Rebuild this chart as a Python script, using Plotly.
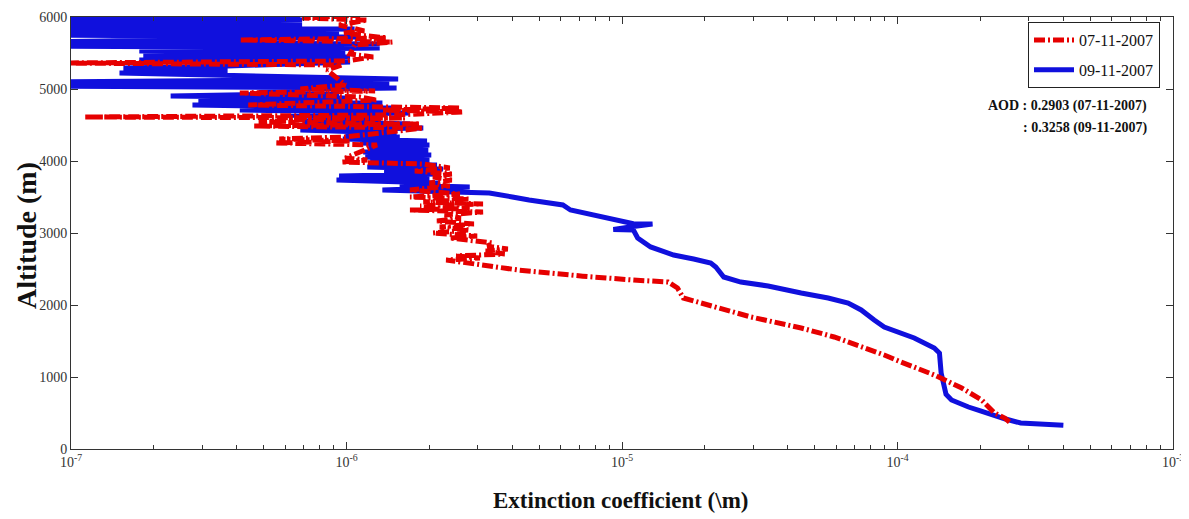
import plotly.graph_objects as go

# ---- data: 07-11-2007 (red, dash-dot) ----
red_alt = [375, 430, 500, 587, 681, 847, 1028, 1208, 1306, 1556, 1681, 1833, 1958, 2097,
           2236, 2319, 2347, 2375, 2400, 2486, 2556, 2625,
           2653, 2681, 2708, 2750, 2778, 2819, 2861, 2889, 2931, 2958, 3000, 3042, 3083,
           3125, 3167, 3208, 3250, 3292, 3319, 3347, 3375, 3403, 3430, 3472, 3500, 3542,
           3569, 3597, 3653, 3694, 3736, 3778, 3820, 3861, 3903, 3958, 3986, 4014, 4042,
           4222, 4250, 4278, 4306, 4333, 4458, 4486, 4514, 4542, 4569, 4597, 4611, 4639,
           4681, 4708, 4736, 4778, 4847, 4889, 4944, 4972, 5000, 5056, 5264, 5333, 5361,
           5389, 5444, 5486, 5611, 5653, 5681, 5708, 5778, 5806, 5889, 5958, 5986, 6028]
red_ext = [2.55e-4, 2.45e-4, 2.25e-4, 2.14e-4, 2.02e-4, 1.71e-4, 1.36e-4, 1.03e-4, 8.95e-5,
           5.89e-5, 4.47e-5, 2.94e-5, 2.23e-5, 1.67e-5, 1.59e-5, 1.47e-5, 1.10e-5, 8.3e-6,
           7.2e-6, 4.2e-6, 3.1e-6, 2.3e-6,
           3.05e-6, 2.5e-6, 3.75e-6, 3.2e-6, 3.85e-6, 3.25e-6, 3.4e-6, 2.98e-6, 2.37e-6,
           2.98e-6, 2.06e-6, 2.8e-6, 2.18e-6, 2.9e-6, 2.13e-6, 2.6e-6, 2.27e-6, 3.13e-6,
           1.7e-6, 2.8e-6, 1.85e-6, 3.13e-6, 1.9e-6, 2.8e-6, 1.7e-6, 2.58e-6, 2.18e-6,
           1.7e-6, 2.37e-6, 2.0e-6, 2.41e-6, 2.06e-6, 2.41e-6, 1.77e-6, 2.37e-6, 1.9e-6,
           9.6e-7, 1.19e-6, 9.9e-7, 1.29e-6, 5.5e-7, 1.03e-6, 5.7e-7, 9.9e-7, 1.9e-6,
           4.6e-7, 1.85e-6, 4.8e-7, 6.8e-7, 1.63e-6, 1.12e-7, 1.5e-6, 2.65e-6, 1.35e-6,
           2.58e-6, 4.4e-7, 1.29e-6, 1.12e-6, 4.1e-7, 1.27e-6, 6.8e-7, 9.9e-7, 8.5e-7,
           9.6e-7, 9.0e-8, 9.9e-7, 1.25e-6, 1.03e-6, 1.07e-6, 1.47e-6, 4.1e-7, 1.4e-6,
           9.7e-7, 1.16e-6, 9.4e-7, 1.19e-6, 6.9e-7, 1.12e-6]

# ---- data: 09-11-2007 (blue, solid) ----
blue_alt = [330, 340, 355, 361, 420, 472, 530, 583, 681, 760, 861, 1056, 1333, 1403, 1542,
            1694, 1792, 1931, 2028, 2097, 2167, 2264, 2319, 2389, 2528, 2583, 2639, 2694,
            2806, 2931, 3042, 3050, 3090, 3125, 3130, 3222, 3319, 3389, 3417, 3458, 3500,
            3556, 3597, 3639, 3667, 3694, 3736, 3764, 3792, 3820, 3861, 3889, 3917, 3944,
            3986, 4014, 4056, 4083, 4125, 4153, 4194, 4222, 4250, 4278, 4306, 4333, 4361,
            4389, 4431, 4458, 4486, 4514, 4556, 4597, 4639, 4667, 4708, 4736, 4778, 4806,
            4847, 4875, 4903, 4944, 4986, 5014, 5042, 5069, 5097, 5139, 5222, 5250, 5292,
            5319, 5375, 5403, 5444, 5472, 5500, 5528, 5569, 5597, 5625, 5653, 5722, 5750,
            5778, 5806, 5833, 5861, 5889, 5903, 5931, 5958, 5986, 6014]
blue_ext = [4.0e-4, 3.3e-4, 2.9e-4, 2.8e-4, 2.45e-4, 2.25e-4, 2.0e-4, 1.81e-4, 1.57e-4,
            1.50e-4, 1.48e-4, 1.44e-4, 1.42e-4, 1.36e-4, 1.15e-4, 8.95e-5, 8.23e-5, 7.38e-5,
            6.62e-5, 5.6e-5, 4.47e-5, 3.39e-5, 2.7e-5, 2.34e-5, 2.19e-5, 2.10e-5, 1.82e-5,
            1.54e-5, 1.27e-5, 1.14e-5, 1.10e-5, 9.3e-6, 1.1e-5, 1.29e-5, 1.1e-5, 8.35e-6,
            6.5e-6, 6.1e-6, 5.3e-6, 4.6e-6, 4.0e-6, 3.3e-6, 1.35e-6, 2.8e-6, 1.56e-6,
            2.18e-6, 9.2e-7, 2.0e-6, 9.4e-7, 2.13e-6, 1.37e-6, 2.24e-6, 1.19e-6, 2.13e-6,
            1.22e-6, 2.0e-6, 1.17e-6, 2.03e-6, 1.15e-6, 1.98e-6, 1.2e-6, 2.0e-6, 1.12e-6,
            1.96e-6, 9.7e-7, 1.56e-6, 9.9e-7, 1.52e-6, 6.8e-7, 1.9e-6, 6.9e-7, 1.7e-6,
            7.0e-7, 1.32e-6, 5.9e-7, 1.7e-6, 4.1e-7, 1.47e-6, 2.76e-7, 1.35e-6, 2.9e-7,
            1.05e-6, 2.3e-7, 9.4e-7, 4.8e-7, 1.52e-6, 8e-8, 1.43e-6, 8e-8, 1.54e-6, 1.5e-7,
            3.7e-7, 1.55e-7, 3.7e-7, 1.03e-6, 1.77e-7, 1.03e-6, 1.83e-7, 9.9e-7, 1.77e-7,
            1.32e-6, 8e-8, 1.32e-6, 8e-8, 1.09e-6, 8e-8, 9.4e-7, 8e-8, 1.07e-6, 8e-8,
            3.0e-7, 6.9e-7, 8e-8, 6.9e-7, 8e-8, 6.8e-7]

series_names = ["07-11-2007", "09-11-2007"]
aod_values = ["0.2903", "0.3258"]
x_tick_vals = [1e-7, 1e-6, 1e-5, 1e-4, 1e-3]
x_tick_text = ["10<sup>-7</sup>", "10<sup>-6</sup>", "10<sup>-5</sup>", "10<sup>-4</sup>", "10<sup>-3</sup>"]
y_tick_vals = [0, 1000, 2000, 3000, 4000, 5000, 6000]

RED = "#E60000"
BLUE = "#1010DD"
SERIF = "Liberation Serif, Times New Roman, serif"

# page offset of the figure (default 8px body margin) is compensated in the layout
PW, PH = 1102, 432   # plot-area size in px; helpers use page px of the reference
def px(xp):
    return (xp - 71) / PW
def py(yp):
    return (449 - yp) / PH

fig = go.Figure()
fig.add_trace(go.Scatter(
    x=blue_ext, y=blue_alt, mode="lines", name=series_names[1], legendrank=2,
    legendgroup="b", line=dict(color=BLUE, width=5)))
fig.add_trace(go.Scatter(
    x=red_ext, y=red_alt, mode="lines", name=series_names[0], legendrank=1,
    legendgroup="a", line=dict(color=RED, width=5, dash="11px,3px,2px,3px")))

fig.add_annotation(
    xref="paper", yref="paper", x=px(1149), y=py(106), xanchor="right", yanchor="middle",
    text=f"<b>AOD : {aod_values[0]} ({series_names[0]})</b>", showarrow=False,
    font=dict(family=SERIF, size=14, color="#111"))
fig.add_annotation(
    xref="paper", yref="paper", x=px(1149), y=py(128), xanchor="right", yanchor="middle",
    text=f"<b>: {aod_values[1]} ({series_names[1]})</b>", showarrow=False,
    font=dict(family=SERIF, size=14, color="#111"))

fig.add_annotation(
    xref="paper", yref="paper", x=px(620), y=py(500), xanchor="center", yanchor="middle",
    showarrow=False, text="<b>Extinction coefficient (\\m)</b>",
    font=dict(family=SERIF, size=23, color="#111"))
fig.add_annotation(
    xref="paper", yref="paper", x=px(26), y=py(236), xanchor="center", yanchor="middle",
    showarrow=False, textangle=-90, text="<b>Altitude (m)</b>",
    font=dict(family=SERIF, size=28, color="#111"))

axis_col = "#333333"
fig.update_layout(
    width=1181, height=511,
    margin=dict(l=63, r=16, t=9, b=70, autoexpand=False),
    paper_bgcolor="white", plot_bgcolor="white",
    font=dict(family=SERIF, size=14, color="#333"),
    showlegend=True,
    legend=dict(x=px(1160), y=py(22), xanchor="right", yanchor="top",
                bordercolor="#222", borderwidth=1, bgcolor="white",
                font=dict(family=SERIF, size=16, color="#111"),
                tracegroupgap=6, itemwidth=40),
    xaxis=dict(
        type="log", range=[-7, -3], tickvals=x_tick_vals, ticktext=x_tick_text,
        ticks="inside", ticklen=7, tickcolor=axis_col, automargin=False,
        showline=True, linecolor=axis_col, linewidth=1, mirror="ticks",
        showgrid=False, zeroline=False,
        minor=dict(ticks="inside", ticklen=4, dtick="D1", tickcolor=axis_col, showgrid=False),
        tickfont=dict(family=SERIF, size=14, color="#333"),
    ),
    yaxis=dict(
        range=[0, 6000], tickvals=y_tick_vals, ticks="inside", ticklen=7, tickcolor=axis_col,
        showline=True, linecolor=axis_col, linewidth=1, mirror="ticks", automargin=False,
        showgrid=False, zeroline=False,
        tickfont=dict(family=SERIF, size=14, color="#333"),
    ),
)

fig.write_html("out.html")
